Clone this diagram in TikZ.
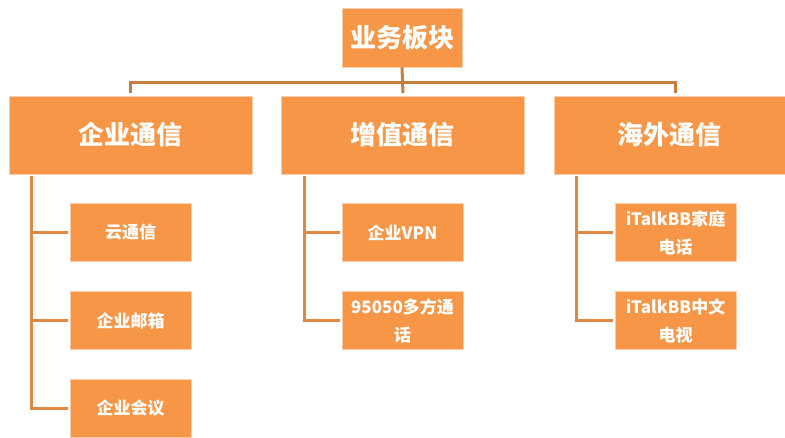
\documentclass[tikz,border=0pt]{standalone}
\usepackage{fontspec}
\setmainfont{Noto Sans CJK SC}
\definecolor{boxfill}{RGB}{247,150,70}
\definecolor{boxedge}{RGB}{250,205,170}
\definecolor{topline}{RGB}{200,125,60}
\definecolor{branchline}{RGB}{224,135,64}
\tikzset{
  topbox/.style={fill=boxfill,draw=boxedge,line width=0.8pt,inner sep=0pt,text=white,font=\fontsize{26}{30}\selectfont\bfseries},
  catbox/.style={fill=boxfill,draw=boxedge,line width=0.8pt,inner sep=0pt,minimum width=243pt,minimum height=78pt,text=white,font=\fontsize{26}{30}\selectfont\bfseries},
  itembox/.style={fill=boxfill,draw=boxedge,line width=0.8pt,inner sep=0pt,minimum width=121pt,minimum height=58pt,text=white,align=center,font=\fontsize{17}{28}\selectfont\bfseries},
  tline/.style={draw=topline,line width=3pt},
  bline/.style={draw=branchline,line width=3pt,line cap=rect}
}
\begin{document}
\begin{tikzpicture}[x=1pt,y=-1pt]
\useasboundingbox (0,0) rectangle (785,437);
% top
\node[topbox,minimum width=120pt,minimum height=59pt] (top) at (402,37.5) {业务板块};
% level 2
\node[catbox] (ca) at (130.5,135) {企业通信};
\node[catbox] (cb) at (402.5,135) {增值通信};
\node[catbox,minimum width=231pt] (cc) at (669.5,135) {海外通信};
% connectors top
\coordinate (hl) at (130,82);
\coordinate (hr) at (675,82);
\coordinate (hm) at (403,93);
\draw[tline] (top.south) -- (hm);
\draw[tline] (130,93) -- (hl) -- (hr) -- (675,93);
% level 3 column 1
\node[itembox] (a1) at (130.5,232.5) {云通信};
\node[itembox] (a2) at (130.5,320.5) {企业邮箱};
\node[itembox] (a3) at (130.5,408) {企业会议};
% column 2
\node[itembox] (b1) at (402.5,232.5) {企业VPN};
\node[itembox] (b2) at (402.5,320.5) {95050多方通\\话};
% column 3
\node[itembox] (c1) at (675.5,232.5) {iTalkBB家庭\\电话};
\node[itembox] (c2) at (675.5,320.5) {iTalkBB中文\\电视};
% branch lines
\coordinate (ta) at (31,177);
\coordinate (tb) at (304,177);
\coordinate (tc) at (576,177);
\draw[bline] (ta) |- ([xshift=-3pt]a3.west);
\draw[bline] (ta |- a1.west) -- ([xshift=-3pt]a1.west);
\draw[bline] (ta |- a2.west) -- ([xshift=-3pt]a2.west);
\draw[bline] (tb) |- ([xshift=-3pt]b2.west);
\draw[bline] (tb |- b1.west) -- ([xshift=-3pt]b1.west);
\draw[bline] (tc) |- ([xshift=-3pt]c2.west);
\draw[bline] (tc |- c1.west) -- ([xshift=-3pt]c1.west);
\end{tikzpicture}
\end{document}
